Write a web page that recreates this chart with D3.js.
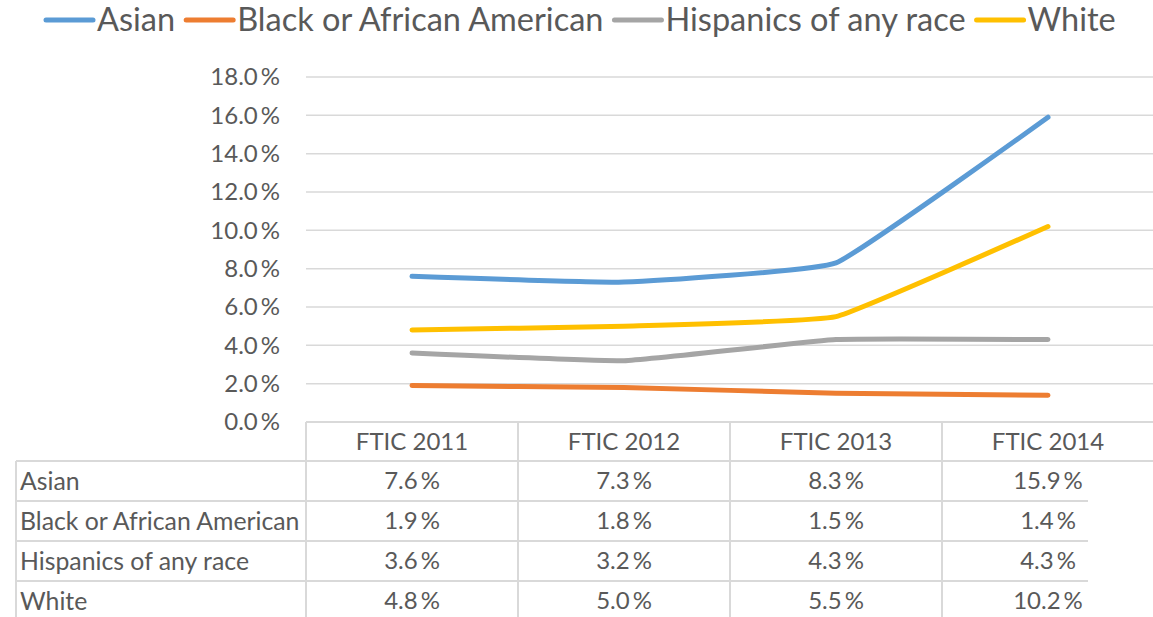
<!DOCTYPE html>
<html>
<head>
<meta charset="utf-8">
<script src="https://cdn.jsdelivr.net/npm/d3@7"></script>
<style>
  body { margin: 0; background: #fff; }
  text { font-family: Lato, "Noto Sans", sans-serif; fill: #595959; }
</style>
</head>
<body>
<svg id="chart"></svg>
<script>
// data
const years = ['FTIC 2011', 'FTIC 2012', 'FTIC 2013', 'FTIC 2014'];
const groups = ['Asian', 'Black or African American', 'Hispanics of any race', 'White'];
const asian = [7.6, 7.3, 8.3, 15.9];
const black = [1.9, 1.8, 1.5, 1.4];
const hispanic = [3.6, 3.2, 4.3, 4.3];
const white = [4.8, 5.0, 5.5, 10.2];
const yTicks = [0, 2, 4, 6, 8, 10, 12, 14, 16, 18];
const colors = ['#5b9bd5', '#ed7d31', '#a5a5a5', '#ffc000'];

const series = [asian, black, hispanic, white];

const width = 1153, height = 617;
const svg = d3.select('#chart')
  .attr('width', width)
  .attr('height', height);

// layout
const plotLeft = 306, plotRight = 1154;
const tableTop = 422, headerH = 39, rowH = 40;
const gridColor = '#d9d9d9';

const x = d3.scaleBand()
  .domain(years)
  .range([plotLeft, plotRight]);

const y = d3.scaleLinear()
  .domain([0, 18])
  .range([tableTop, 77]);

// gridlines
svg.append('g')
  .selectAll('line')
  .data(yTicks.filter(d => d > 0))
  .enter().append('line')
  .attr('x1', plotLeft)
  .attr('x2', width)
  .attr('y1', d => y(d))
  .attr('y2', d => y(d))
  .style('stroke', gridColor)
  .style('stroke-width', 1.5);

// y axis labels
svg.append('g')
  .selectAll('text')
  .data(yTicks)
  .enter().append('text')
  .attr('x', 280)
  .attr('y', d => y(d))
  .attr('dy', '0.35em')
  .attr('text-anchor', 'end')
  .style('font-size', '24px')
  .text(d => d.toFixed(1) + '\u2009%');

// lines, only lightly smoothed
const line = d3.line()
  .x((d, i) => x(years[i]) + x.bandwidth() / 2)
  .y(d => y(d))
  .curve(d3.curveCardinal.tension(0.7));

svg.append('g')
  .selectAll('path')
  .data(series)
  .enter().append('path')
  .attr('d', d => line(d))
  .style('fill', 'none')
  .style('stroke', (d, i) => colors[i])
  .style('stroke-width', 5)
  .style('stroke-linecap', 'round')
  .style('stroke-linejoin', 'round');

// data table
const table = svg.append('g');
const rowY = i => tableTop + headerH + i * rowH;

// horizontal rules
table.append('line')
  .attr('x1', plotLeft).attr('x2', width)
  .attr('y1', tableTop).attr('y2', tableTop);
table.append('line')
  .attr('x1', 16).attr('x2', width)
  .attr('y1', rowY(0)).attr('y2', rowY(0));
table.selectAll('.row-rule')
  .data(d3.range(1, groups.length + 1))
  .enter().append('line')
  .attr('class', 'row-rule')
  .attr('x1', 16).attr('x2', 1088)
  .attr('y1', d => rowY(d)).attr('y2', d => rowY(d));

// vertical rules
table.append('line')
  .attr('x1', 16).attr('x2', 16)
  .attr('y1', rowY(0)).attr('y2', height);
table.selectAll('.col-rule')
  .data(years)
  .enter().append('line')
  .attr('class', 'col-rule')
  .attr('x1', d => x(d)).attr('x2', d => x(d))
  .attr('y1', tableTop).attr('y2', height);

table.selectAll('line')
  .style('stroke', gridColor)
  .style('stroke-width', 2);

// header
table.selectAll('.year')
  .data(years)
  .enter().append('text')
  .attr('class', 'year')
  .attr('x', d => x(d) + x.bandwidth() / 2)
  .attr('y', tableTop + headerH / 2)
  .attr('dy', '0.35em')
  .attr('text-anchor', 'middle')
  .style('font-size', '24px')
  .text(d => d);

// rows
groups.forEach((g, gi) => {
  const cy = rowY(gi) + rowH / 2;
  table.append('text')
    .attr('x', 20)
    .attr('y', cy)
    .attr('dy', '0.35em')
    .style('font-size', '24.8px')
    .text(g);
  table.selectAll('.v' + gi)
    .data(series[gi])
    .enter().append('text')
    .attr('class', 'v' + gi)
    .attr('x', (d, i) => x(years[i]) + x.bandwidth() / 2)
    .attr('y', cy)
    .attr('dy', '0.35em')
    .attr('text-anchor', 'middle')
    .style('font-size', '24px')
    .text(d => d.toFixed(1) + '\u2009%');
});

// legend
const legend = svg.append('g');
let lx = 46;
groups.forEach((g, i) => {
  legend.append('line')
    .attr('x1', lx).attr('x2', lx + 47)
    .attr('y1', 20).attr('y2', 20)
    .style('stroke', colors[i])
    .style('stroke-width', 5)
    .style('stroke-linecap', 'round');
  const t = legend.append('text')
    .attr('x', lx + 51)
    .attr('y', 20)
    .attr('dy', '0.35em')
    .style('font-size', '32.5px')
    .text(g);
  lx += 51 + t.node().getComputedTextLength() + 11;
});
</script>
</body>
</html>
